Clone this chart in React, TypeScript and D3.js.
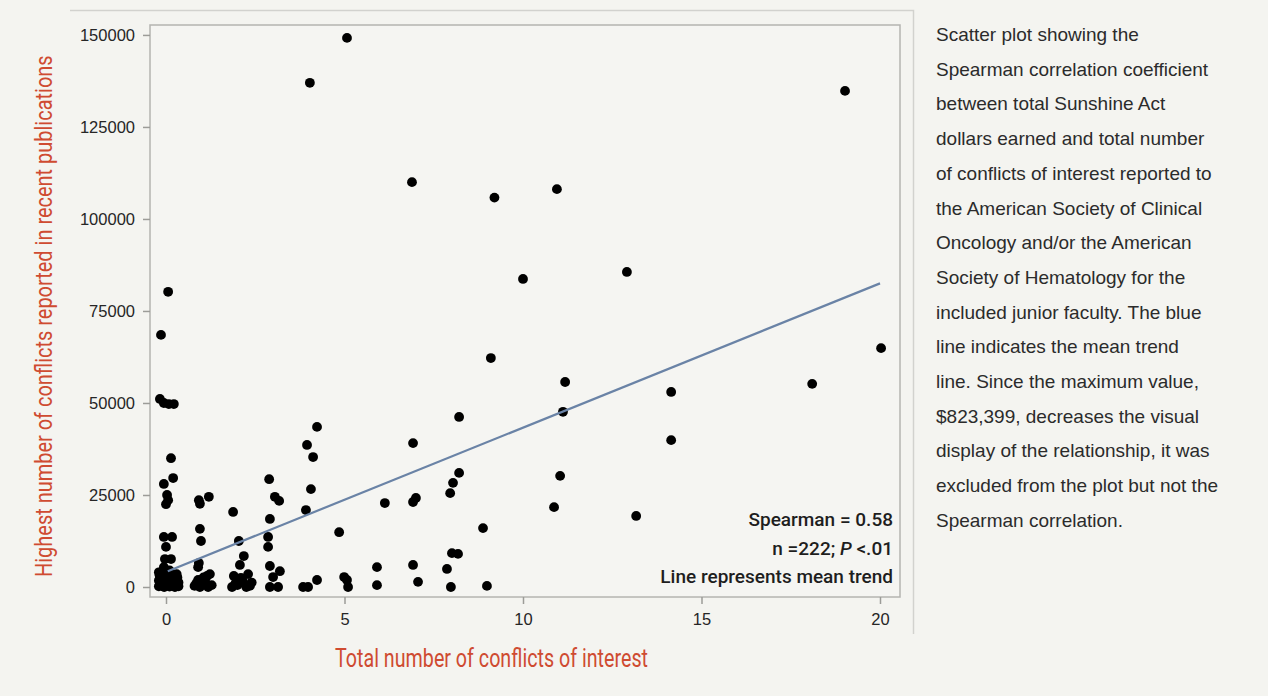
import React, { useEffect, useRef } from 'react';
import * as d3 from 'd3';

// Total number of conflicts of interest (x) vs highest number reported (y)
const conflictsX: number[] = [
  // around 0
  -0.14, 0.06, -0.17, -0.06, 0.08, 0.22, 0.14, 0.2, -0.06, 0.03, 0.06, 0.0, -0.06, 0.17, 0.0, -0.03, 0.14, -0.06,
  -0.2, 0.1, 0.3, -0.15, 0.05, 0.25, -0.2, 0.0, 0.2, 0.35, -0.15, 0.05, 0.3, -0.2, 0.1, 0.25, -0.05, 0.35, 0.15, -0.1,
  -0.18, 0.12, 0.32, -0.08, 0.22, 0.02, 0.28, -0.12,
  // around 1
  0.92, 0.95, 1.2, 0.95, 0.98, 0.92, 0.9, 1.23, 0.9, 1.1, 0.95, 1.18, 0.8, 1.28, 1.05, 0.85, 1.15,
  // around 2
  1.88, 2.04, 2.18, 2.07, 1.9, 2.1, 2.3, 2.0, 2.25, 1.85, 2.15, 2.4, 2.05, 1.95, 2.35,
  // around 3
  2.89, 3.05, 3.17, 2.91, 2.86, 2.86, 2.91, 3.19, 3.0, 2.91, 3.14,
  // around 4
  4.03, 4.23, 3.95, 4.12, 4.06, 3.92, 3.84, 3.98, 4.23,
  // around 5-6
  5.07, 4.85, 4.99, 5.07, 5.1, 5.91, 5.91, 6.13,
  // around 7
  6.89, 6.92, 6.92, 7.0, 6.92, 7.06,
  // around 8-9
  8.21, 8.21, 8.04, 7.96, 8.01, 8.18, 7.87, 7.98, 8.88, 8.99, 9.1, 9.2,
  // 10 and above
  10.0, 10.95, 11.18, 11.12, 11.04, 10.87, 12.91, 13.17, 14.15, 14.15, 18.1, 19.02, 20.03,
];

const conflictsY: number[] = [
  68500, 80200, 51100, 50000, 49700, 49700, 35000, 29600, 28000, 25000, 23600, 22500, 13600, 13600, 10900, 7600, 7600, 5400,
  4000, 4500, 3500, 2800, 3000, 2500, 1800, 1500, 1700, 1200, 800, 600, 500, 200, 100, 0, 0, 200, 1000, 2200,
  3200, 2000, 2600, 400, 300, 4200, 900, 1300,
  23600, 22600, 24500, 15800, 12500, 6500, 5400, 3500, 1900, 1400, 0, 0, 300, 500, 2600, 1000, 3000,
  20400, 12500, 8400, 6000, 3000, 2500, 3500, 500, 0, 0, 1700, 1200, 2000, 1000, 300,
  29300, 24500, 23400, 18500, 13600, 10900, 5700, 4300, 2700, 0, 0,
  137000, 43500, 38600, 35300, 26600, 20900, 0, 0, 1900,
  149200, 14900, 2700, 1900, 0, 5400, 500, 22800,
  110000, 39100, 23100, 24200, 6000, 1400,
  46200, 31000, 28300, 25500, 9200, 9000, 4900, 0, 16000, 300, 62200, 105800,
  83700, 108100, 55700, 47600, 30200, 21700, 85600, 19300, 53000, 39900, 55200, 134800, 64900,
];

// mean trend line end points
const trendX = [0.05, 20];
const trendY = [4300, 82500];

const xTicks = [0, 5, 10, 15, 20];
const yTicks = [0, 25000, 50000, 75000, 100000, 125000, 150000];

const statLines = ['Spearman = 0.58', 'n =222; P <.01', 'Line represents mean trend'];

const captionLines = [
  'Scatter plot showing the',
  'Spearman correlation coefficient',
  'between total Sunshine Act',
  'dollars earned and total number',
  'of conflicts of interest reported to',
  'the American Society of Clinical',
  'Oncology and/or the American',
  'Society of Hematology for the',
  'included junior faculty. The blue',
  'line indicates the mean trend',
  'line. Since the maximum value,',
  '$823,399, decreases the visual',
  'display of the relationship, it was',
  'excluded from the plot but not the',
  'Spearman correlation.',
];

const App: React.FC = () => {
  const svgRef = useRef<SVGSVGElement | null>(null);

  useEffect(() => {
    if (!svgRef.current) return;
    const width = 1268;
    const height = 696;
    const bg = '#f4f4f0';
    const red = '#cf4b31';

    const svg = d3.select(svgRef.current);
    svg.selectAll('*').remove();
    svg.attr('width', width).attr('height', height);

    svg.append('rect').attr('width', width).attr('height', height).attr('fill', bg);

    // frame of the figure panel
    svg.append('path')
      .attr('d', 'M70,10.5 H913.5 V634')
      .attr('fill', 'none')
      .attr('stroke', '#d2d2ce')
      .attr('stroke-width', 1.5);

    const left = 150, right = 900, top = 25, bottom = 597;

    const x = d3.scaleLinear().domain([-0.448, 20.56]).range([left, right]);
    const y = d3.scaleLinear().domain([-2717, 152700]).range([bottom, top]);

    // plot frame
    svg.append('rect')
      .attr('x', left)
      .attr('y', top)
      .attr('width', right - left)
      .attr('height', bottom - top)
      .attr('fill', '#f5f5f2')
      .attr('stroke', '#b4b4b0')
      .attr('stroke-width', 1.5);

    // axes
    const xAxis = svg.append('g')
      .attr('transform', `translate(0, ${bottom})`)
      .call(d3.axisBottom(x).tickValues(xTicks).tickSize(7).tickPadding(9).tickFormat(d3.format('d')));
    const yAxis = svg.append('g')
      .attr('transform', `translate(${left}, 0)`)
      .call(d3.axisLeft(y).tickValues(yTicks).tickSize(7).tickPadding(8).tickFormat(d3.format('d')));

    [xAxis, yAxis].forEach(g => {
      g.select('.domain').remove();
      g.selectAll('line').attr('stroke', '#9c9c98').attr('stroke-width', 1.5);
      g.selectAll('text')
        .attr('fill', '#262626')
        .style('font-family', '"Liberation Sans", Arial, sans-serif')
        .style('font-size', '16.5px');
    });

    // points
    const points = conflictsX.map((v, i) => ({ cx: v, cy: conflictsY[i] }));
    svg.append('g')
      .selectAll('circle')
      .data(points)
      .enter()
      .append('circle')
      .attr('cx', d => x(d.cx))
      .attr('cy', d => y(d.cy))
      .attr('r', 4.9)
      .attr('fill', '#000');

    // mean trend line
    const line = d3.line<number>()
      .x(d => x(d))
      .y((_, i) => y(trendY[i]));
    svg.append('path')
      .attr('d', line(trendX) as string)
      .attr('fill', 'none')
      .attr('stroke', '#6a83a6')
      .attr('stroke-width', 2.2);

    // stats box text
    const stats = svg.append('g')
      .style('font-family', 'Roboto, sans-serif')
      .style('font-weight', '500')
      .style('font-size', '19px')
      .attr('fill', '#1e1e1e')
      .attr('text-anchor', 'end');
    statLines.forEach((s, i) => {
      const t = stats.append('text').attr('x', 893).attr('y', 526 + i * 28.5);
      if (s.includes('P <')) {
        t.append('tspan').text('n =222; ');
        t.append('tspan').style('font-style', 'italic').text('P');
        t.append('tspan').text(' <.01');
      } else {
        t.text(s);
      }
    });

    // condensed axis titles: squeeze horizontally to the reference width
    const squeeze = (g: d3.Selection<SVGGElement, unknown, null, undefined>, tx: number, ty: number, rot: number, target: number) => {
      const node = g.select('text').node() as SVGTextElement;
      const natural = node.getComputedTextLength() || target;
      const sx = target / natural;
      g.attr('transform', `translate(${tx}, ${ty}) rotate(${rot}) scale(${sx}, 1)`);
    };

    const xTitle = svg.append('g');
    xTitle.append('text')
      .style('font-family', 'Roboto, sans-serif')
      .style('font-weight', '400')
      .style('font-size', '25px')
      .attr('fill', red)
      .text('Total number of conflicts of interest');
    squeeze(xTitle, 335, 667, 0, 313);

    const yTitle = svg.append('g');
    yTitle.append('text')
      .style('font-family', 'Roboto, sans-serif')
      .style('font-weight', '400')
      .style('font-size', '24px')
      .attr('fill', red)
      .text('Highest number of conflicts reported in recent publications');
    squeeze(yTitle, 52, 577, -90, 522);

    // caption on the right
    const cap = svg.append('g')
      .style('font-family', '"Liberation Sans", Arial, sans-serif')
      .style('font-size', '19px')
      .attr('fill', '#2b2b2b');
    captionLines.forEach((s, i) => {
      cap.append('text').attr('x', 936).attr('y', 41 + i * 34.7).text(s);
    });
  }, []);

  return (
    <div style={{ position: 'absolute', left: 0, top: 0 }}>
      <svg ref={svgRef}></svg>
    </div>
  );
};

export default App;
